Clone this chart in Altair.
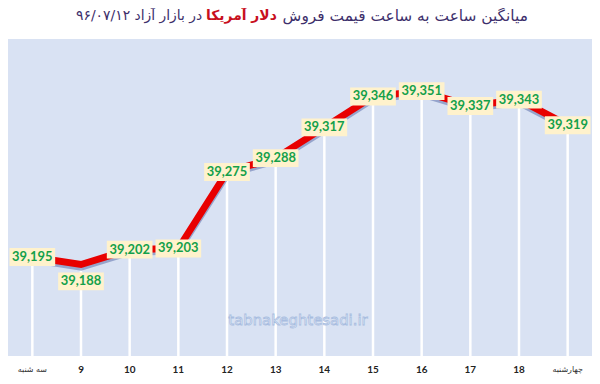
import altair as alt
import pandas as pd

# ---- data ----
hours = ["سه شنبه", "9", "10", "11", "12", "13", "14", "15", "16", "17", "18", "چهارشنبه"]
prices = [39195, 39188, 39202, 39203, 39275, 39288, 39317, 39346, 39351, 39337, 39343, 39319]
below_labels = ["9"]
day_labels = ["سه شنبه", "چهارشنبه"]

title_dark_right = "میانگین ساعت به ساعت قیمت فروش"
title_red = "دلار آمریکا"
title_dark_left = "در بازار آزاد ۹۶/۰۷/۱۲"
watermark = "tabnakeghtesadi.ir"

df = pd.DataFrame({"hour": hours, "price": prices})

PANEL = "#d9e2f3"
W, H = 588, 319
Y_DOMAIN = [39102, 39400]

x_enc = alt.X("hour:N", sort=hours, scale=alt.Scale(type="point", padding=0.5), axis=None)
y_enc = alt.Y("price:Q", scale=alt.Scale(domain=Y_DOMAIN, nice=False, zero=False), axis=None)

base = alt.Chart(df).encode(x=x_enc)

drops = base.mark_bar(
    width=2.5,
    color=alt.Gradient(
        gradient="linear",
        stops=[alt.GradientStop(color="#ffffff", offset=0),
               alt.GradientStop(color="#ffffff", offset=0.75),
               alt.GradientStop(color=PANEL, offset=1)],
        x1=0, x2=0, y1=0, y2=1,
    ),
).encode(y=y_enc, y2=alt.value(302))

shadow = base.transform_calculate(sp="datum.price - 2.5").mark_line(
    color="#7f8fbf", strokeWidth=7, opacity=0.75
).encode(y=alt.Y("sp:Q", scale=alt.Scale(domain=Y_DOMAIN, nice=False, zero=False), axis=None))

line = base.mark_line(color="#e80000", strokeWidth=7).encode(y=y_enc)

is_below = alt.FieldOneOfPredicate(field="hour", oneOf=below_labels)
is_day = alt.FieldOneOfPredicate(field="hour", oneOf=day_labels)

box_c = base.transform_filter(~is_below).mark_rect(width=46, height=18, color="#fff2cc").encode(y=y_enc)
box_b = base.transform_filter(is_below).mark_rect(width=46, height=18, color="#fff2cc", yOffset=17).encode(y=y_enc)

txt_style = dict(font="Lato", fontSize=13, fontWeight="bold", color="#14a04a", baseline="middle", align="center")
txt_c = base.transform_filter(~is_below).mark_text(**txt_style).encode(
    y=y_enc, text=alt.Text("price:Q", format=",d"))
txt_b = base.transform_filter(is_below).mark_text(dy=17, **txt_style).encode(
    y=y_enc, text=alt.Text("price:Q", format=",d"))

# x-axis labels drawn as text marks
xl_num = base.transform_filter(~is_day).mark_text(
    font="Lato", fontSize=10, fontWeight="bold", color="#222222", baseline="middle", align="center"
).encode(y=alt.value(H + 14), text="hour:N")
xl_day = base.transform_filter(is_day).mark_text(
    font="DejaVu Sans", fontSize=8, color="#333333", baseline="middle", align="center"
).encode(y=alt.value(H + 14), text="hour:N")

wm = alt.Chart(pd.DataFrame({"t": [watermark]})).mark_text(
    font="DejaVu Sans", fontSize=15, fill="#f4f7fc", stroke="#a8bde0", strokeWidth=0.8,
    align="center", baseline="middle",
).encode(x=alt.value(292), y=alt.value(283), text="t:N")

t_right = alt.Chart(pd.DataFrame({"t": [title_dark_right]})).mark_text(
    font="DejaVu Sans", fontSize=15.5, color="#3d2f6b", align="center", baseline="middle"
).encode(x=alt.value(400), y=alt.value(-23), text="t:N")
t_red = alt.Chart(pd.DataFrame({"t": [title_red]})).mark_text(
    font="DejaVu Sans", fontSize=14, fontWeight="bold", color="#c8101e", align="center", baseline="middle"
).encode(x=alt.value(235), y=alt.value(-23), text="t:N")
t_left = alt.Chart(pd.DataFrame({"t": [title_dark_left]})).mark_text(
    font="DejaVu Sans", fontSize=14, color="#3d2f6b", align="center", baseline="middle"
).encode(x=alt.value(132), y=alt.value(-23), text="t:N")

chart = alt.layer(
    drops, shadow, line, box_c, box_b, txt_c, txt_b, xl_num, xl_day, wm, t_right, t_red, t_left
).properties(
    width=W, height=H,
    autosize=alt.AutoSizeParams(type="none"),
    padding={"left": 0, "top": 30, "right": 0, "bottom": 26},
    background="#ffffff",
).configure_view(fill=PANEL, stroke=None)

chart.save("out.html", embed_options={"renderer": "svg", "actions": False})
